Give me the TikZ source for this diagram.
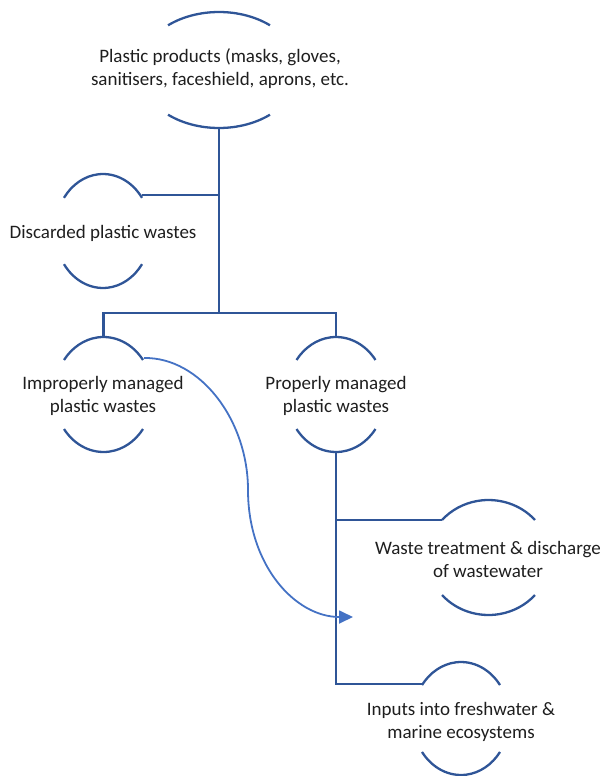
\documentclass[tikz,border=0pt]{standalone}
\usepackage{fontspec}
\setmainfont{Carlito}
\usetikzlibrary{calc,arrows.meta}
\definecolor{darkb}{RGB}{47,85,151}
\definecolor{lightb}{RGB}{68,114,196}
\definecolor{txt}{RGB}{30,30,30}
\newcommand\twoarcs[4]{%
 \draw[arcline] ($(#1)+(#4:#2pt and #3pt)$) arc[start angle=#4,end angle=180-#4,x radius=#2pt,y radius=#3pt];
 \draw[arcline] ($(#1)+(180+#4:#2pt and #3pt)$) arc[start angle=180+#4,end angle=360-#4,x radius=#2pt,y radius=#3pt];
}
\begin{document}
\begin{tikzpicture}[x=1pt,y=-1pt,
  arcline/.style={draw=darkb,line width=2.3pt},
  conn/.style={draw=darkb,line width=2.3pt},
  curveconn/.style={draw=lightb,line width=1.8pt,-{Triangle[length=14pt,width=13pt]}},
  lbl/.style={align=center,font=\fontsize{19}{23}\selectfont,inner sep=0pt,text=txt}]
\useasboundingbox (0,0) rectangle (601,776);
% centers
\coordinate (topc) at (219,70);
\coordinate (discc) at (103,231);
\coordinate (imprc) at (103.5,394.5);
\coordinate (propc) at (336,394.5);
\coordinate (wastec) at (488.5,557.5);
\coordinate (inpc) at (461,718.5);
% arcs
\twoarcs{topc}{80}{58}{50.4}
\twoarcs{discc}{48}{57}{35.6}
\twoarcs{imprc}{49.4}{57.5}{36.9}
\twoarcs{propc}{49.4}{57.5}{36.9}
\twoarcs{wastec}{61.3}{57.5}{40.7}
\twoarcs{inpc}{48.4}{56.5}{36.3}
% labels
\node[lbl] (top) at (220,69) {Plastic products (masks, gloves,\\sanitisers, faceshield, aprons, etc.};
\node[lbl] (disc) at (103,233) {Discarded plastic wastes};
\node[lbl] (impr) at (103,396) {Improperly managed\\plastic wastes};
\node[lbl] (prop) at (336,396) {Properly managed\\plastic wastes};
\node[lbl] (waste) at (488,559.5) {Waste treatment \& discharge\\of wastewater};
\node[lbl] (inp) at (461,722) {Inputs into freshwater \&\\marine ecosystems};
% connection points
\coordinate (topS) at ($(topc)+(0,58)$);
\coordinate (discE) at (142,195);
\coordinate (bus) at (219,313);
\coordinate (imprN) at ($(imprc)+(0,-57.5)$);
\coordinate (propN) at ($(propc)+(0,-57.5)$);
\coordinate (propS) at ($(propc)+(0,57.5)$);
\coordinate (imprNE) at (144,358);
\coordinate (wasteW) at (442,520);
\coordinate (inpW) at (422,684);
\coordinate (arrowend) at (353,617);
% connectors
\draw[conn] (topS) -- (bus);
\draw[conn] (discE) -- (discE -| topS);
\draw[conn] (imprN) |- (bus) -| (propN);
\draw[conn] (propS) |- (inpW);
\draw[conn] (wasteW) -- (wasteW -| propS);
\draw[curveconn] (imprNE) .. controls (200,357) and (248,420) .. (248,490) .. controls (248,565) and (295,617) .. (arrowend);
\end{tikzpicture}
\end{document}
